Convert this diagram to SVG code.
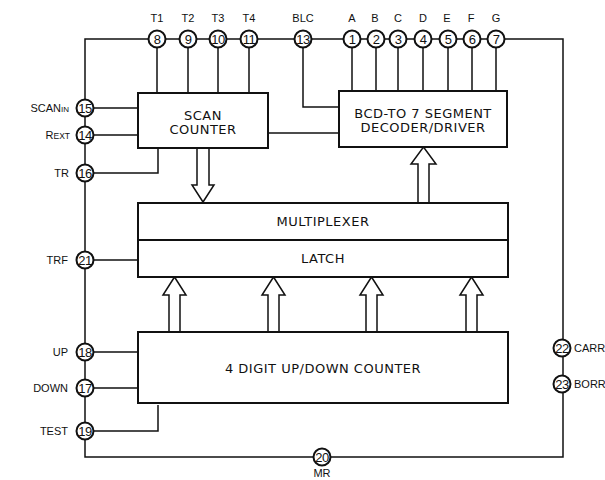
<svg xmlns="http://www.w3.org/2000/svg" width="605" height="480" viewBox="0 0 605 480">
<style>
.w{fill:none;stroke:#111;stroke-width:1.5}
.box{fill:#fff;stroke:#111;stroke-width:2}
.pin{fill:#fff;stroke:#111;stroke-width:2}
.pn{font-family:"Liberation Sans",Arial,sans-serif;font-size:13px;fill:#111;text-anchor:middle;dominant-baseline:central;letter-spacing:-0.6px}
.lb{font-family:"Liberation Sans",Arial,sans-serif;font-size:11px;fill:#111}
.bt{font-family:"DejaVu Sans",sans-serif;font-size:13px;fill:#111;text-anchor:middle;dominant-baseline:central;letter-spacing:0.5px}
.ar{fill:#fff;stroke:#111;stroke-width:1.5;stroke-linejoin:miter}
</style>
<rect width="605" height="480" fill="#fff"/>
<g id="connectors">
<path class="w" d="M85,39 H563 V457 H85 Z"/>
<path class="w" d="M157,39 V93 M188,39 V93 M218,39 V93 M249,39 V93"/>
<path class="w" d="M352,39 V91 M376,39 V91 M398,39 V91 M423,39 V91 M448,39 V91 M472,39 V91 M496,39 V91"/>
<path class="w" d="M303,39 V107 H339"/>
<path class="w" d="M268,133 H339"/>
<path class="w" d="M85,108 H138 M85,135 H138 M85,173 H158 V148"/>
<path class="w" d="M85,260 H138"/>
<path class="w" d="M85,352 H138 M85,388 H138 M85,431 H158 V405"/>
<path class="ar" d="M197,148 V185 H192 L203,202 L214,185 H209 V148"/>
<path class="ar" d="M418,203 V164 H411 L423.5,147 L436,164 H429 V203"/>
<path class="ar" d="M169,332 V295 H163 L174.5,277 L186,295 H180 V332"/>
<path class="ar" d="M268,332 V295 H262 L273.5,277 L285,295 H279 V332"/>
<path class="ar" d="M366,332 V295 H360 L371.5,277 L383,295 H377 V332"/>
<path class="ar" d="M466,332 V295 H460 L471.5,277 L483,295 H477 V332"/>
</g>
<g id="scan-counter">
<rect class="box" x="138" y="93" width="130" height="55"/>
<text class="bt" x="203" y="115">SCAN</text>
<text class="bt" x="203" y="129">COUNTER</text>
</g>
<g id="decoder">
<rect class="box" x="339" y="91" width="168" height="56"/>
<text class="bt" x="423" y="113">BCD-TO 7 SEGMENT</text>
<text class="bt" x="423" y="127">DECODER/DRIVER</text>
</g>
<g id="multiplexer">
<rect class="box" x="138" y="203" width="370" height="37"/>
<text class="bt" x="323" y="221">MULTIPLEXER</text>
</g>
<g id="latch">
<rect class="box" x="138" y="240" width="370" height="37"/>
<text class="bt" x="323" y="258">LATCH</text>
</g>
<g id="counter">
<rect class="box" x="138" y="332" width="370" height="71"/>
<text class="bt" x="323" y="368">4 DIGIT UP/DOWN COUNTER</text>
</g>
<g id="pins-top">
<g id="pin8"><circle class="pin" cx="157" cy="39" r="8.5"/><text class="pn" x="157" y="39">8</text><text class="lb" x="157" y="22" text-anchor="middle">T1</text></g>
<g id="pin9"><circle class="pin" cx="188" cy="39" r="8.5"/><text class="pn" x="188" y="39">9</text><text class="lb" x="188" y="22" text-anchor="middle">T2</text></g>
<g id="pin10"><circle class="pin" cx="218" cy="39" r="8.5"/><text class="pn" x="218" y="39">10</text><text class="lb" x="218" y="22" text-anchor="middle">T3</text></g>
<g id="pin11"><circle class="pin" cx="249" cy="39" r="8.5"/><text class="pn" x="249" y="39">11</text><text class="lb" x="249" y="22" text-anchor="middle">T4</text></g>
<g id="pin13"><circle class="pin" cx="303" cy="39" r="8.5"/><text class="pn" x="303" y="39">13</text><text class="lb" x="303" y="22" text-anchor="middle">BLC</text></g>
<g id="pin1"><circle class="pin" cx="352" cy="39" r="8.5"/><text class="pn" x="352" y="39">1</text><text class="lb" x="352" y="22" text-anchor="middle">A</text></g>
<g id="pin2"><circle class="pin" cx="376" cy="39" r="8.5"/><text class="pn" x="376" y="39">2</text><text class="lb" x="375" y="22" text-anchor="middle">B</text></g>
<g id="pin3"><circle class="pin" cx="398" cy="39" r="8.5"/><text class="pn" x="398" y="39">3</text><text class="lb" x="398" y="22" text-anchor="middle">C</text></g>
<g id="pin4"><circle class="pin" cx="423" cy="39" r="8.5"/><text class="pn" x="423" y="39">4</text><text class="lb" x="423" y="22" text-anchor="middle">D</text></g>
<g id="pin5"><circle class="pin" cx="448" cy="39" r="8.5"/><text class="pn" x="448" y="39">5</text><text class="lb" x="447" y="22" text-anchor="middle">E</text></g>
<g id="pin6"><circle class="pin" cx="472" cy="39" r="8.5"/><text class="pn" x="472" y="39">6</text><text class="lb" x="471" y="22" text-anchor="middle">F</text></g>
<g id="pin7"><circle class="pin" cx="496" cy="39" r="8.5"/><text class="pn" x="496" y="39">7</text><text class="lb" x="496" y="22" text-anchor="middle">G</text></g>
</g>
<g id="pins-left">
<g id="pin15"><circle class="pin" cx="85" cy="108" r="8.5"/><text class="pn" x="85" y="108">15</text><text class="lb" x="69" y="112" text-anchor="end">SCAN<tspan font-size="8">IN</tspan></text></g>
<g id="pin14"><circle class="pin" cx="85" cy="135" r="8.5"/><text class="pn" x="85" y="135">14</text><text class="lb" x="70" y="139" text-anchor="end">R<tspan font-size="8.5">EXT</tspan></text></g>
<g id="pin16"><circle class="pin" cx="85" cy="173" r="8.5"/><text class="pn" x="85" y="173">16</text><text class="lb" x="69" y="177" text-anchor="end">TR</text></g>
<g id="pin21"><circle class="pin" cx="85" cy="260" r="8.5"/><text class="pn" x="85" y="260">21</text><text class="lb" x="68" y="264" text-anchor="end">TRF</text></g>
<g id="pin18"><circle class="pin" cx="85" cy="352" r="8.5"/><text class="pn" x="85" y="352">18</text><text class="lb" x="68" y="356" text-anchor="end">UP</text></g>
<g id="pin17"><circle class="pin" cx="85" cy="388" r="8.5"/><text class="pn" x="85" y="388">17</text><text class="lb" x="68" y="392" text-anchor="end">DOWN</text></g>
<g id="pin19"><circle class="pin" cx="85" cy="431" r="8.5"/><text class="pn" x="85" y="431">19</text><text class="lb" x="68" y="435" text-anchor="end">TEST</text></g>
</g>
<g id="pins-right">
<g id="pin22"><circle class="pin" cx="562" cy="348" r="8.5"/><text class="pn" x="562" y="348">22</text><text class="lb" x="574" y="352" font-size="10">CARR</text></g>
<g id="pin23"><circle class="pin" cx="562" cy="384" r="8.5"/><text class="pn" x="562" y="384">23</text><text class="lb" x="574" y="388" font-size="10">BORR</text></g>
</g>
<g id="pin20"><circle class="pin" cx="322" cy="457" r="8.5"/><text class="pn" x="322" y="457">20</text><text class="lb" x="322" y="477" text-anchor="middle" font-size="10">MR</text></g>
</svg>
